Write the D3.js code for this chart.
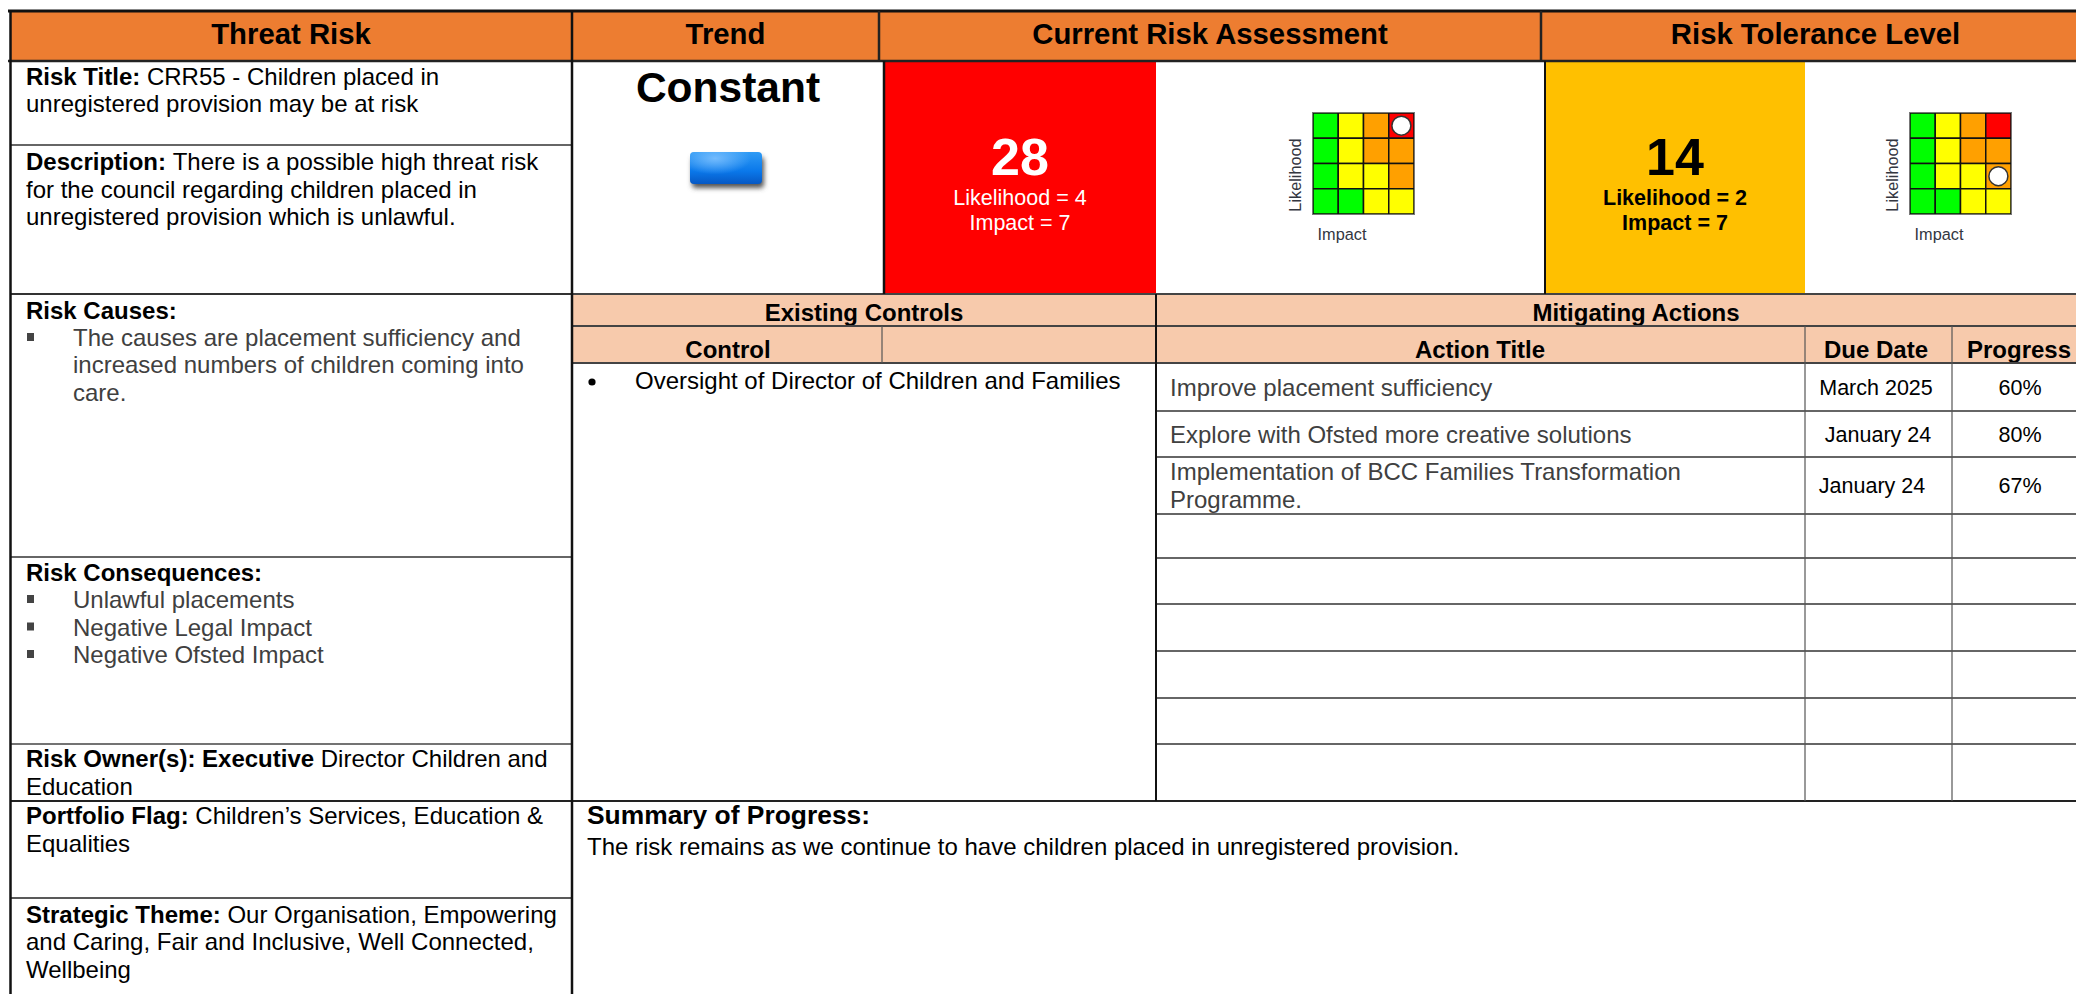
<!DOCTYPE html>
<html>
<head>
<meta charset="utf-8">
<script src="https://cdn.jsdelivr.net/npm/d3@7"></script>
<style>
  html, body { margin: 0; padding: 0; background: #fff; overflow: hidden; }
  svg { display: block; }
  text { font-family: "Liberation Sans", Arial, sans-serif; }
</style>
</head>
<body>
<div id="viz"></div>
<script>
// values
const headers = ["Threat Risk", "Trend", "Current Risk Assessment", "Risk Tolerance Level"];
const trendLabel = "Constant";
const impactLevels = [1, 2, 4, 7];
const likelihoodLevels = [4, 3, 2, 1];
const matrixColors = [
  ["g", "y", "o", "r"],
  ["g", "y", "o", "o"],
  ["g", "y", "y", "o"],
  ["g", "g", "y", "y"]
];
const currentRisk = {likelihood: 4, impact: 7};
const toleranceRisk = {likelihood: 2, impact: 7};
const actionTitles = [
  ["Improve placement sufficiency"],
  ["Explore with Ofsted more creative solutions"],
  ["Implementation of BCC Families Transformation", "Programme."]
];
const dueDates = ["March 2025", "January 24", "January 24"];
const progress = [60, 80, 67];
const causes = ["The causes are placement sufficiency and", "increased numbers of children coming into", "care."];
const consequences = ["Unlawful placements", "Negative Legal Impact", "Negative Ofsted Impact"];

const width = 2076, height = 994;
const bodySize = 24;
const grey = "#404040";
const cellColor = {g: "#00ff00", y: "#ffff00", o: "#ffa000", r: "#ff0000"};

const svg = d3.select("#viz").append("svg")
  .attr("width", width)
  .attr("height", height);

const defs = svg.append("defs");
const grad = defs.append("linearGradient").attr("id", "btn").attr("x1", 0).attr("y1", 0).attr("x2", 0).attr("y2", 1);
grad.append("stop").attr("offset", "0%").attr("stop-color", "#2f9bf5");
grad.append("stop").attr("offset", "60%").attr("stop-color", "#0a78ea");
grad.append("stop").attr("offset", "100%").attr("stop-color", "#0658c4");
const glow = defs.append("radialGradient").attr("id", "btnGlow").attr("cx", "35%").attr("cy", "20%").attr("r", "50%");
glow.append("stop").attr("offset", "0%").attr("stop-color", "#7cc0ff").attr("stop-opacity", 0.9);
glow.append("stop").attr("offset", "100%").attr("stop-color", "#7cc0ff").attr("stop-opacity", 0);
const blur = defs.append("filter").attr("id", "soft").attr("x", "-20%").attr("y", "-30%").attr("width", "140%").attr("height", "160%");
blur.append("feGaussianBlur").attr("stdDeviation", 2.5);

function rect(x, y, w, h, fill) {
  return svg.append("rect").attr("x", x).attr("y", y).attr("width", w).attr("height", h).attr("fill", fill);
}
function line(x1, y1, x2, y2, color, w) {
  svg.append("line").attr("x1", x1).attr("y1", y1).attr("x2", x2).attr("y2", y2)
    .attr("stroke", color).attr("stroke-width", w);
}
// runs is a list of [string, bold]
function label(x, y, runs, opts = {}) {
  const t = svg.append("text").attr("x", x).attr("y", y)
    .attr("font-size", opts.size || bodySize)
    .attr("fill", opts.fill || "#000")
    .attr("text-anchor", opts.anchor || "start");
  (typeof runs === "string" ? [[runs, !!opts.bold]] : runs).forEach(([s, b]) => {
    t.append("tspan").attr("font-weight", b ? "bold" : "normal").attr("xml:space", "preserve").text(s);
  });
  return t;
}

// header band
const orange = "#ed7d31", peach = "#f7caac";
const headerEdges = [10, 572, 879, 1541, 2090];
rect(10, 11, 2080, 49, orange);
headers.forEach((h, i) => {
  label((headerEdges[i] + headerEdges[i + 1]) / 2, 44, h, {size: 29.3, bold: true, anchor: "middle"});
});

// risk score blocks
rect(885, 62, 271, 232, "#ff0000");
rect(1546, 62, 259, 232, "#ffc000");

label(1020, 175, "28", {size: 52, bold: true, fill: "#fff", anchor: "middle"});
label(1020, 205, "Likelihood = " + currentRisk.likelihood, {size: 21.5, fill: "#fff", anchor: "middle"});
label(1020, 230, "Impact = " + currentRisk.impact, {size: 21.5, fill: "#fff", anchor: "middle"});
label(1675, 175, "14", {size: 52, bold: true, anchor: "middle"});
label(1675, 205, "Likelihood = " + toleranceRisk.likelihood, {size: 21.5, bold: true, anchor: "middle"});
label(1675, 230, "Impact = " + toleranceRisk.impact, {size: 21.5, bold: true, anchor: "middle"});

// trend
label(728, 102, trendLabel, {size: 42.5, bold: true, anchor: "middle"});
svg.append("rect").attr("x", 692).attr("y", 157).attr("width", 72).attr("height", 31).attr("rx", 4)
  .attr("fill", "#555").attr("filter", "url(#soft)");
svg.append("rect").attr("x", 690).attr("y", 152).attr("width", 72).attr("height", 32).attr("rx", 4).attr("fill", "url(#btn)");
svg.append("rect").attr("x", 690).attr("y", 152).attr("width", 72).attr("height", 32).attr("rx", 4).attr("fill", "url(#btnGlow)");

// risk matrix
function drawMatrix(x0, risk) {
  const y0 = 113, size = 101;
  const x = d3.scaleBand().domain(impactLevels).range([x0, x0 + size]);
  const y = d3.scaleBand().domain(likelihoodLevels).range([y0, y0 + size]);
  const cells = matrixColors.flatMap((row, r) => row.map((c, i) => ({
    impact: impactLevels[i], likelihood: likelihoodLevels[r], c
  })));
  svg.append("g").selectAll("rect").data(cells).join("rect")
    .attr("x", d => x(d.impact))
    .attr("y", d => y(d.likelihood))
    .attr("width", x.bandwidth())
    .attr("height", y.bandwidth())
    .attr("fill", d => cellColor[d.c])
    .attr("stroke", "#111")
    .attr("stroke-width", 1.5);
  svg.append("rect").attr("x", x0 - 0.5).attr("y", y0 - 0.5).attr("width", size + 1).attr("height", size + 1)
    .attr("fill", "none").attr("stroke", "#777").attr("stroke-width", 1);
  svg.append("circle")
    .attr("cx", x(risk.impact) + x.bandwidth() / 2)
    .attr("cy", y(risk.likelihood) + y.bandwidth() / 2)
    .attr("r", 9.5)
    .attr("fill", "#fff")
    .attr("stroke", "#333")
    .attr("stroke-width", 1.5);
  label(x0 + 29, 240, "Impact", {size: 16.3, fill: "#33363f", anchor: "middle"});
  label(0, 0, "Likelihood", {size: 16.3, fill: "#33363f", anchor: "middle"})
    .attr("transform", `translate(${x0 - 12},175) rotate(-90)`);
}
drawMatrix(1313, currentRisk);
drawMatrix(1910, toleranceRisk);

// sub headers
rect(573, 295, 1503, 31, peach);
rect(573, 327, 1503, 36, peach);
label(864, 321, "Existing Controls", {size: 24, bold: true, anchor: "middle"});
label(1636, 321, "Mitigating Actions", {size: 24, bold: true, anchor: "middle"});
label(728, 358, "Control", {size: 24, bold: true, anchor: "middle"});
label(1480, 358, "Action Title", {size: 24, bold: true, anchor: "middle"});
label(1876, 358, "Due Date", {size: 24, bold: true, anchor: "middle"});
label(2019, 358, "Progress", {size: 24, bold: true, anchor: "middle"});

// left column
label(26, 85, [["Risk Title: ", true], ["CRR55 - Children placed in", false]]);
label(26, 112, "unregistered provision may be at risk");
label(26, 170, [["Description: ", true], ["There is a possible high threat risk", false]]);
label(26, 198, "for the council regarding children placed in");
label(26, 225, "unregistered provision which is unlawful.");

label(26, 319, "Risk Causes:", {bold: true});
causes.forEach((s, i) => label(73, 346 + i * 27.3, s, {fill: grey}));
rect(27, 333, 7, 8, "#444");

label(26, 581, "Risk Consequences:", {bold: true});
consequences.forEach((s, i) => {
  label(73, 608 + i * 27.5, s, {fill: grey});
  rect(27, 595 + i * 27.5, 7, 8, "#444");
});

label(26, 767, [["Risk Owner(s): Executive ", true], ["Director Children and", false]]);
label(26, 795, "Education");
label(26, 824, [["Portfolio Flag: ", true], ["Children\u2019s Services, Education &", false]]);
label(26, 852, "Equalities");
label(26, 923, [["Strategic Theme: ", true], ["Our Organisation, Empowering", false]]);
label(26, 950, "and Caring, Fair and Inclusive, Well Connected,");
label(26, 978, "Wellbeing");

// controls
svg.append("circle").attr("cx", 592).attr("cy", 382).attr("r", 3.6).attr("fill", "#000");
label(635, 389, "Oversight of Director of Children and Families");

// actions table
const rowEdges = [363, 411, 457, 514, 558, 604, 651, 698, 744, 801];
const actionBaselines = [[396], [443], [480, 508]];
const dueCenters = [1876, 1878, 1872];
const dueBaselines = [395, 442, 493];
actionTitles.forEach((lines, i) => {
  lines.forEach((s, j) => label(1170, actionBaselines[i][j], s, {fill: grey}));
  label(dueCenters[i], dueBaselines[i], dueDates[i], {size: 21.5, anchor: "middle"});
  label(2020, dueBaselines[i], progress[i] + "%", {size: 21.5, anchor: "middle"});
});
rowEdges.slice(1, -1).forEach(y => line(1156, y, 2076, y, "#333", 1.5));

// summary
label(587, 824, "Summary of Progress:", {size: 26.4, bold: true});
label(587, 855, "The risk remains as we continue to have children placed in unregistered provision.");

// grid lines
line(10, 145, 572, 145, "#333", 1.5);
line(10, 294, 572, 294, "#333", 2);
line(10, 557, 572, 557, "#333", 1.5);
line(10, 744, 572, 744, "#444", 1.5);
line(10, 801, 2076, 801, "#222", 2);
line(10, 898, 572, 898, "#222", 1.5);
line(572, 294, 2076, 294, "#444", 2);
line(573, 326, 2076, 326, "#444", 2);
line(573, 363, 2076, 363, "#444", 2);
line(8, 61, 2076, 61, "#222", 2.5);
line(8, 11, 2076, 11, "#111", 3);
line(10.5, 11, 10.5, 994, "#111", 2.5);
line(572, 11, 572, 994, "#111", 2.5);
line(879, 11, 879, 60, "#222", 2.5);
line(1541, 11, 1541, 60, "#222", 2.5);
line(884, 61, 884, 294, "#111", 2.5);
line(1156, 294, 1156, 801, "#111", 2);
line(1545, 61, 1545, 294, "#111", 2);
line(882, 326, 882, 363, "#555", 1.2);
line(1805, 326, 1805, 801, "#555", 1.2);
line(1952, 326, 1952, 801, "#555", 1.2);
</script>
</body>
</html>
